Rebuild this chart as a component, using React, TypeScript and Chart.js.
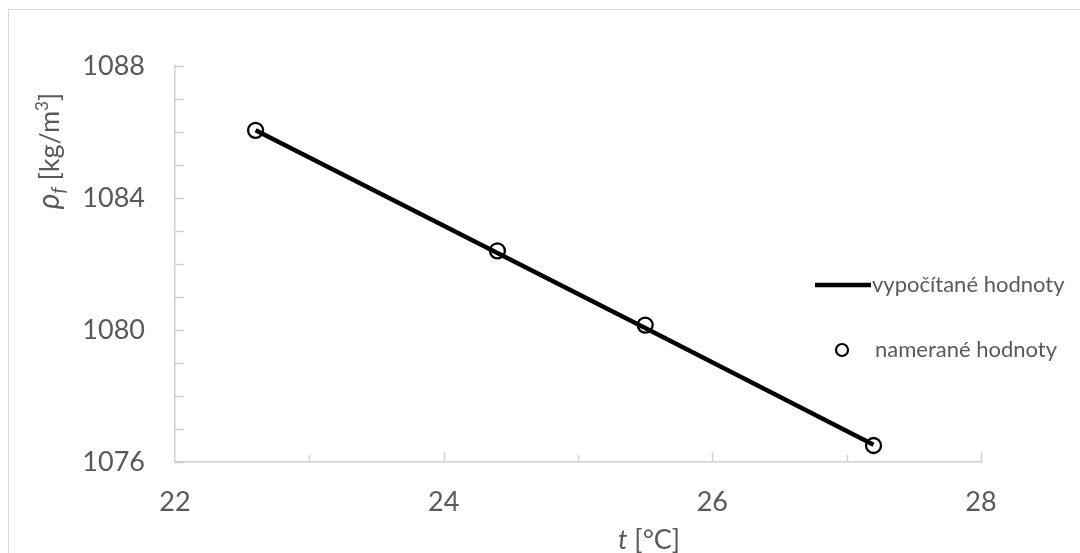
import React, { useEffect, useRef } from 'react';
import { Chart, registerables } from 'chart.js';

Chart.register(...registerables);

const temperatures = [22.6, 24.4, 25.5, 27.2];
const calculatedDensity = [1086.05, 1082.33, 1080.06, 1076.52];
const measuredDensity = [1086.05, 1082.4, 1080.15, 1076.5];
const seriesNames = ['vypočítané hodnoty', 'namerané hodnoty'];
const xTicksMajor = [22, 24, 26, 28];
const yTicksMajor = [1076, 1080, 1084, 1088];

const FONT = "Lato, 'Open Sans', 'DejaVu Sans', sans-serif";
const GRAY = '#595959';
const AXIS = '#d0d0d0';

const decorPlugin = {
  id: 'decor',
  afterDraw(chart: any) {
    const ctx = chart.ctx as CanvasRenderingContext2D;
    const xs = chart.scales.x;
    const ys = chart.scales.y;
    ctx.save();
    // outer border
    ctx.strokeStyle = '#d9d9d9';
    ctx.lineWidth = 1;
    ctx.strokeRect(8.5, 9.5, 1200, 700);

    // inner tick marks
    ctx.strokeStyle = AXIS;
    ctx.lineWidth = 1.5;
    const x0 = xs.getPixelForValue(xs.min);
    const y0 = ys.getPixelForValue(ys.min);
    for (let v = ys.min; v <= ys.max; v += 1) {
      const py = Math.round(ys.getPixelForValue(v)) + 0.5;
      ctx.beginPath();
      ctx.moveTo(x0, py);
      ctx.lineTo(x0 + 9, py);
      ctx.stroke();
    }
    for (let v = xs.min + 1; v <= xs.max; v += 1) {
      const px = Math.round(xs.getPixelForValue(v)) + 0.5;
      const len = xTicksMajor.includes(v) ? 10 : 7;
      ctx.beginPath();
      ctx.moveTo(px, y0);
      ctx.lineTo(px, y0 - len);
      ctx.stroke();
    }

    // legend
    ctx.textBaseline = 'middle';
    ctx.textAlign = 'left';
    ctx.strokeStyle = '#000';
    ctx.lineWidth = 4.5;
    ctx.beginPath();
    ctx.moveTo(815, 285);
    ctx.lineTo(871, 285);
    ctx.stroke();
    ctx.fillStyle = GRAY;
    ctx.font = `22px ${FONT}`;
    ctx.fillText(seriesNames[0], 872, 285);
    ctx.lineWidth = 2.2;
    ctx.beginPath();
    ctx.arc(842, 350, 6, 0, Math.PI * 2);
    ctx.stroke();
    ctx.fillText(seriesNames[1], 875, 350);

    // x title
    ctx.textBaseline = 'alphabetic';
    const xParts = [
      { t: 't', f: `italic 27px ${FONT}`, dy: 0 },
      { t: ' [°C]', f: `27px ${FONT}`, dy: 0 },
    ];
    let w = 0;
    xParts.forEach((p) => { ctx.font = p.f; w += ctx.measureText(p.t).width; });
    let cx = 649 - w / 2;
    xParts.forEach((p) => {
      ctx.font = p.f;
      ctx.fillText(p.t, cx, 549 + p.dy);
      cx += ctx.measureText(p.t).width;
    });

    // y title
    ctx.translate(59, 151);
    ctx.rotate(-Math.PI / 2);
    const yParts = [
      { t: 'ρ', f: `italic 30px ${FONT}`, dy: 0 },
      { t: 'f', f: `italic 19px ${FONT}`, dy: 6 },
      { t: ' [kg/m', f: `27px ${FONT}`, dy: 0 },
      { t: '3', f: `17px ${FONT}`, dy: -11 },
      { t: ']', f: `27px ${FONT}`, dy: 0 },
    ];
    w = 0;
    yParts.forEach((p) => { ctx.font = p.f; w += ctx.measureText(p.t).width; });
    cx = -w / 2;
    yParts.forEach((p) => {
      ctx.font = p.f;
      ctx.fillText(p.t, cx, p.dy);
      cx += ctx.measureText(p.t).width;
    });
    ctx.restore();
  },
};

export default function App() {
  const canvasRef = useRef<HTMLCanvasElement | null>(null);

  useEffect(() => {
    const canvas = canvasRef.current;
    if (!canvas) return;
    const chart = new Chart(canvas, {
      type: 'scatter',
      data: {
        datasets: [
          {
            label: seriesNames[1],
            data: temperatures.map((t, i) => ({ x: t, y: measuredDensity[i] })),
            showLine: false,
            pointRadius: 7.5,
            pointBorderWidth: 2.3,
            pointBorderColor: '#000',
            pointBackgroundColor: 'rgba(0,0,0,0)',
            order: 0,
          },
          {
            label: seriesNames[0],
            data: temperatures.map((t, i) => ({ x: t, y: calculatedDensity[i] })),
            showLine: true,
            borderColor: '#000',
            borderWidth: 4.5,
            pointRadius: 0,
            order: 1,
          },
        ],
      },
      options: {
        responsive: false,
        animation: false,
        layout: { padding: { top: 66, right: 99, left: 0, bottom: 0 } },
        plugins: { legend: { display: false }, tooltip: { enabled: false } },
        scales: {
          x: {
            type: 'linear',
            min: 22,
            max: 28,
            afterFit: (s: any) => { s.height = 91; },
            grid: { display: false, drawTicks: false },
            border: { display: true, color: AXIS, width: 1.5 },
            ticks: {
              stepSize: 1,
              autoSkip: false,
              maxRotation: 0,
              padding: 24,
              color: GRAY,
              font: { family: FONT, size: 27 },
              callback: (v: any) => (xTicksMajor.includes(Number(v)) ? String(v) : ''),
            },
          },
          y: {
            type: 'linear',
            min: 1076,
            max: 1088,
            afterFit: (s: any) => { s.width = 175; },
            grid: { display: false, drawTicks: false },
            border: { display: true, color: AXIS, width: 1.5 },
            ticks: {
              stepSize: 1,
              autoSkip: false,
              padding: 30,
              color: GRAY,
              font: { family: FONT, size: 27 },
              callback: (v: any) => (yTicksMajor.includes(Number(v)) ? String(v) : ''),
            },
          },
        },
      },
      plugins: [decorPlugin],
    } as any);
    return () => chart.destroy();
  }, []);

  return (
    <canvas
      ref={canvasRef}
      width={1080}
      height={553}
      style={{ position: 'fixed', left: 0, top: 0, display: 'block', background: '#fff' }}
    />
  );
}
